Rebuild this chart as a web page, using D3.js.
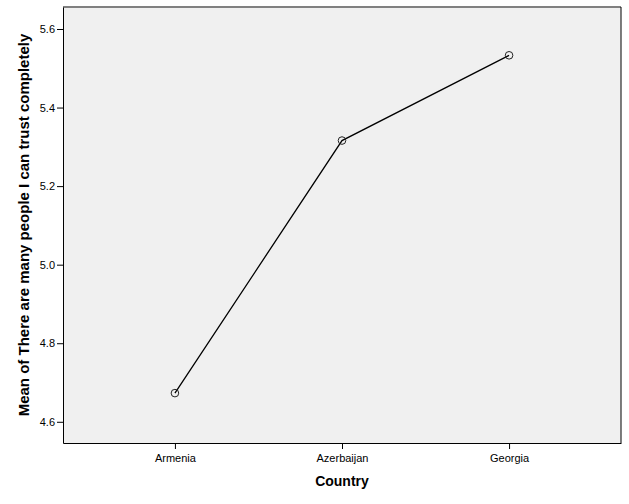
<!DOCTYPE html>
<html><head><meta charset="utf-8">
<script src="https://cdn.jsdelivr.net/npm/d3@7"></script>
<style>body{margin:0;background:#fff;} svg{display:block;}</style>
</head><body>
<script>
const categories = ["Armenia", "Azerbaijan", "Georgia"];
const values = [4.673, 5.316, 5.533];
const yTicks = [4.6, 4.8, 5.0, 5.2, 5.4, 5.6];
const xTitle = "Country";
const yTitle = "Mean of There are many people I can trust completely";

const W = 629, H = 504;
const m = {left: 63, top: 7, right: 8, bottom: 61};
const svg = d3.select("body").append("svg").attr("width", W).attr("height", H);
const pw = W - m.left - m.right, ph = H - m.top - m.bottom;
const g = svg.append("g").attr("transform", `translate(${m.left},${m.top})`);

const x = d3.scalePoint().domain(categories).range([0, pw]).padding(0.67);
const y = d3.scaleLinear().domain([4.546, 5.656]).range([ph, 0]);

g.append("rect").attr("width", pw).attr("height", ph).attr("fill", "#f0f0f0");
g.append("line").attr("x1", 0).attr("x2", pw).attr("y1", 0).attr("y2", 0).attr("stroke", "#808080").attr("stroke-width", 2);
g.append("line").attr("x1", pw).attr("x2", pw).attr("y1", 0).attr("y2", ph).attr("stroke", "#000").attr("stroke-width", 1);

const yAxis = g.append("g").call(d3.axisLeft(y).tickValues(yTicks).tickFormat(d3.format(".1f")).tickSize(6).tickSizeOuter(0).tickPadding(2));
const xAxis = g.append("g").attr("transform", `translate(0,${ph})`).call(d3.axisBottom(x).tickSize(6).tickSizeOuter(0).tickPadding(5));
[yAxis, xAxis].forEach(a => {
  a.selectAll("text").attr("font-family", "Arial, 'Liberation Sans', sans-serif").attr("font-size", 11).attr("fill", "#000");
  a.selectAll("line").attr("stroke", "#000");
  a.select(".domain").attr("stroke", "#000");
});

const line = d3.line().x((d, i) => x(categories[i])).y(d => y(d));
g.append("path").datum(values).attr("d", line).attr("fill", "none").attr("stroke", "#000").attr("stroke-width", 1.3);
g.selectAll("circle.pt").data(values).join("circle")
  .attr("cx", (d, i) => x(categories[i])).attr("cy", d => y(d)).attr("r", 3.8)
  .attr("fill", "none").attr("stroke", "#222").attr("stroke-width", 1);

svg.append("text").attr("x", m.left + x("Azerbaijan")).attr("y", 486).attr("text-anchor", "middle")
  .attr("font-family", "Arial, 'Liberation Sans', sans-serif").attr("font-weight", "bold").attr("font-size", 14).text(xTitle);
svg.append("text").attr("transform", `translate(29,${m.top + ph/2}) rotate(-90)`).attr("text-anchor", "middle")
  .attr("font-family", "Arial, 'Liberation Sans', sans-serif").attr("font-weight", "bold").attr("font-size", 15).text(yTitle);
</script>
</body></html>
